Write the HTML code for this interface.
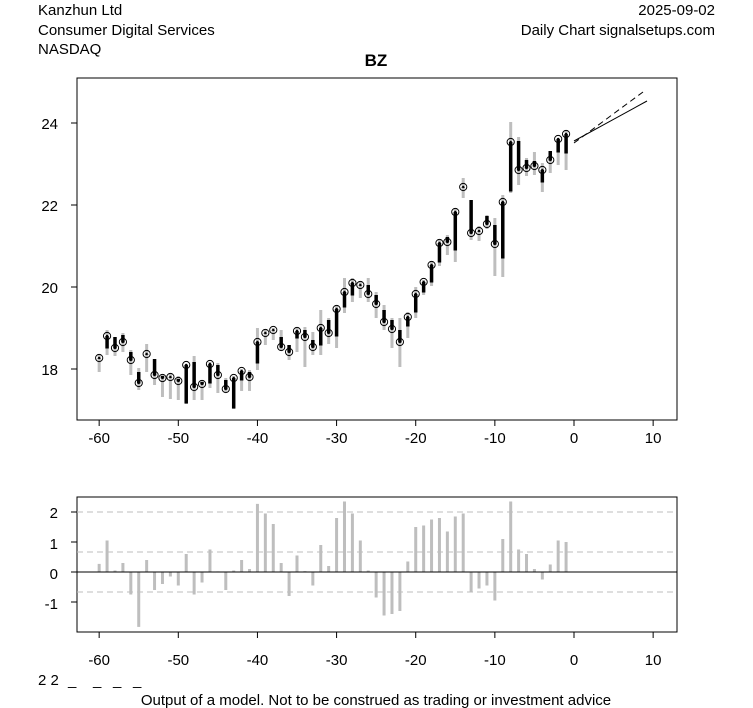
<!DOCTYPE html>
<html><head><meta charset="utf-8"><style>
body{margin:0;background:#fff;}
svg{display:block;font-family:"Liberation Sans",Arial,sans-serif;}
</style></head><body>
<svg id="s" width="753" height="708" xmlns="http://www.w3.org/2000/svg">
<rect width="753" height="708" fill="#fff"/>
<text x="38" y="15" font-size="15">Kanzhun Ltd</text>
<text x="38" y="35" font-size="15">Consumer Digital Services</text>
<text x="38" y="54" font-size="15">NASDAQ</text>
<text x="715" y="15" font-size="15" text-anchor="end">2025-09-02</text>
<text x="715" y="35" font-size="15" text-anchor="end">Daily Chart signalsetups.com</text>
<text x="376" y="66" font-size="17" font-weight="bold" text-anchor="middle">BZ</text>
<rect x="77" y="78" width="600" height="342" fill="none" stroke="#000"/>
<rect x="77" y="497" width="600" height="135" fill="none" stroke="#000"/>
<g id="main"></g>
<g id="low"></g>
<line x1="574" y1="141" x2="647" y2="101" stroke="#000" stroke-width="1"/>
<line x1="574" y1="143" x2="643" y2="92" stroke="#000" stroke-width="1" stroke-dasharray="6,4"/>
<g font-size="15" text-anchor="end">
<text x="58" y="129">24</text><text x="58" y="211">22</text><text x="58" y="293">20</text><text x="58" y="375">18</text>
<text x="58" y="518">2</text><text x="58" y="549">1</text><text x="58" y="579">0</text><text x="58" y="609">-1</text>
</g>
<text x="38" y="685" font-size="15">2 2</text>
<text x="68" y="685" font-size="15">_</text>
<text x="93" y="685" font-size="15">_</text>
<text x="113" y="685" font-size="15">_</text>
<text x="133" y="685" font-size="15">_</text>
<text x="376" y="705" font-size="15" text-anchor="middle">Output of a model. Not to be construed as trading or investment advice</text>
</svg>
<script>
var NS="http://www.w3.org/2000/svg";
function el(p,t,a){var e=document.createElementNS(NS,t);for(var k in a)e.setAttribute(k,a[k]);p.appendChild(e);return e;}
var s=document.getElementById("s"),m=document.getElementById("main"),lo=document.getElementById("low");
function X(d){return 574+d*7.914;}
[-60,-50,-40,-30,-20,-10,0,10].forEach(function(d){
 [[420,426,443],[632,638,665]].forEach(function(r){
  el(s,"line",{x1:X(d),x2:X(d),y1:r[0],y2:r[1],stroke:"#000"});
  var t=el(s,"text",{x:X(d),y:r[2],"font-size":15,"text-anchor":"middle"});t.textContent=d;});
});
[123,205,287,369].forEach(function(y){el(s,"line",{x1:71,x2:77,y1:y,y2:y,stroke:"#000"});});
[512,542,572,602].forEach(function(y){el(s,"line",{x1:71,x2:77,y1:y,y2:y,stroke:"#000"});});
var D=[[358,358,355,372],[336,348,330,355],[348,337,340,356],[342,335,333,352],[360,352,350,375],[383,372,368,390],[354,354,344,372],[375,359,359,385],[378,376,375,397],[377,377,374,399],[381,379,376,400],[365,403,364,404],[387,362,356,400],[384,382,380,400],[364,383,362,388],[375,365,363,393],[389,380,378,392],[378,408,376,409],[371,380,369,391],[377,372,370,391],[342,363,328,370],[333,333,330,345],[330,330,328,340],[347,337,330,350],[352,345,345,360],[331,338,328,352],[337,330,327,367],[347,340,332,355],[328,345,310,355],[333,320,318,344],[309,336,305,348],[292,307,278,313],[283,295,278,302],[285,285,282,298],[294,285,278,302],[304,295,292,318],[322,310,305,330],[329,320,318,348],[342,330,318,367],[317,326,312,338],[294,312,287,318],[282,292,280,295],[265,282,262,286],[243,262,240,266],[242,237,235,255],[212,250,208,262],[187,187,178,198],[233,200,200,240],[231,231,226,241],[224,216,215,229],[244,225,218,276],[202,258,195,277],[142,191,122,193],[170,141,137,185],[168,160,158,176],[166,161,152,175],[170,182,163,192],[160,151,158,173],[139,152,138,165],[134,153,130,170]];
D.forEach(function(v,i){var x=X(i-60);
 el(m,"line",{x1:x,x2:x,y1:v[2],y2:v[3],stroke:"#bebebe","stroke-width":3});
 el(m,"line",{x1:x,x2:x,y1:Math.min(v[0],v[1]),y2:Math.max(v[0],v[1])+0.5,stroke:"#000","stroke-width":3.5});
 el(m,"circle",{cx:x,cy:v[0],r:3.6,fill:"none",stroke:"#000","stroke-width":1});
 el(m,"circle",{cx:x,cy:v[0],r:1.2,fill:"#000"});
});
[512,552,592].forEach(function(y){el(lo,"line",{x1:77,x2:677,y1:y,y2:y,stroke:"#bebebe","stroke-dasharray":"6,4"});});
var V=[0.27,1.05,0.05,0.3,-0.75,-1.83,0.4,-0.6,-0.4,-0.15,-0.45,0.6,-0.75,-0.35,0.75,0.02,-0.6,0.05,0.4,0.1,2.27,1.95,1.6,0.3,-0.8,0.55,0.03,-0.45,0.9,0.2,1.8,2.35,1.95,1.05,0.05,-0.85,-1.45,-1.4,-1.3,0.35,1.5,1.55,1.75,1.8,1.35,1.85,1.95,-0.65,-0.55,-0.45,-0.95,1.1,2.35,0.75,0.6,0.1,-0.25,0.25,1.05,1.0];
V.forEach(function(v,i){var x=X(i-60);el(lo,"line",{x1:x,x2:x,y1:572,y2:572-v*30,stroke:"#bebebe","stroke-width":3});});
el(lo,"line",{x1:77,x2:677,y1:572,y2:572,stroke:"#000"});
</script>
</body></html>
